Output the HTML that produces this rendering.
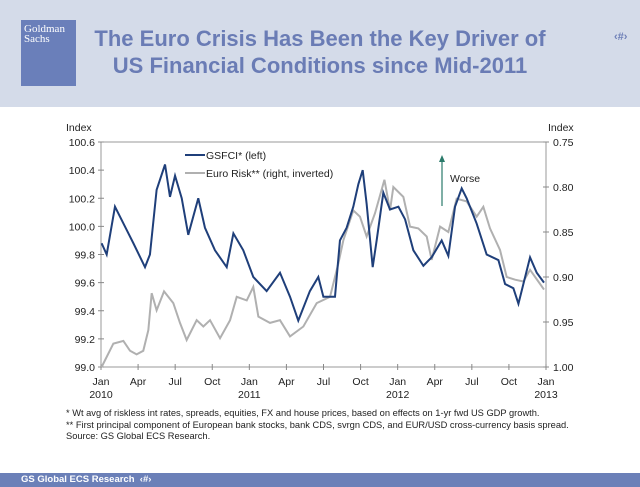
<!DOCTYPE html>
<html><head><meta charset="utf-8"><style>
body{margin:0;width:640px;height:487px;overflow:hidden;background:#fff;font-family:"Liberation Sans",sans-serif;position:relative}
.hdr{position:absolute;left:0;top:0;width:640px;height:107px;background:#d4dbe9}
.logo{position:absolute;left:21px;top:20px;width:55px;height:66px;background:#6a7fba;color:#fff;font-family:"Liberation Serif",serif;font-size:11px;line-height:10px;padding:4px 3px;box-sizing:border-box}
.title{position:absolute;left:80px;top:25px;width:480px;text-align:center;color:#6a7cb5;font-weight:bold;font-size:22px;line-height:27px}
.ftr{position:absolute;left:0;top:473px;width:640px;height:14px;background:#6b80b8;color:#fff;font-weight:bold;font-size:9.5px;line-height:14px;padding-left:21px;box-sizing:border-box}
.foot{position:absolute;left:66px;top:408px;font-size:9.3px;line-height:11.5px;color:#222;white-space:nowrap}
</style></head><body>
<div class="hdr"></div>
<div class="logo">Goldman<br>Sachs</div>
<div class="title">The Euro Crisis Has Been the Key Driver of<br>US Financial Conditions since Mid-2011</div>
<div style="position:absolute;left:614px;top:31px;color:#6f80b8;font-size:11px;font-weight:bold">‹#›</div>
<svg id="chart" width="640" height="487" style="position:absolute;left:0;top:0"></svg>
<div class="foot">* Wt avg of riskless int rates, spreads, equities, FX and house prices, based on effects on 1-yr fwd US GDP growth.<br>** First principal component of European bank stocks, bank CDS, svrgn CDS, and EUR/USD cross-currency basis spread.<br>Source: GS Global ECS Research.</div>
<div class="ftr">GS Global ECS Research &nbsp;‹#›</div>
<script>
const gsMonths=[0.05,0.46,1.13,2.62,3.56,3.96,4.5,5.18,5.58,5.99,6.53,7.06,7.87,8.41,9.22,10.17,10.71,11.51,12.32,13.4,14.48,15.29,15.96,16.9,17.58,17.99,18.93,19.33,19.87,20.41,20.82,21.17,21.49,21.98,22.3,22.84,23.38,24.06,24.6,25.27,26.08,26.75,27.56,28.1,28.64,29.18,29.58,30.39,31.2,32.15,32.69,33.36,33.77,34.17,34.71,35.25,35.84];
const gsValues=[99.88,99.8,100.14,99.88,99.71,99.8,100.26,100.44,100.21,100.36,100.2,99.94,100.2,99.99,99.83,99.71,99.95,99.83,99.64,99.54,99.67,99.5,99.33,99.54,99.64,99.5,99.5,99.9,99.99,100.14,100.3,100.4,100.16,99.71,99.9,100.24,100.12,100.14,100.05,99.83,99.72,99.78,99.9,99.79,100.14,100.27,100.2,100.02,99.8,99.76,99.59,99.56,99.45,99.59,99.78,99.67,99.6];
const euMonths=[0.05,1,1.81,2.35,2.88,3.42,3.83,4.1,4.5,5.1,5.85,6.39,6.93,7.74,8.28,8.82,9.63,10.44,10.98,11.79,12.32,12.73,13.67,14.48,15.29,16.37,17.45,18.53,19.2,19.61,20.41,20.95,21.49,22.17,22.93,23.38,23.65,24.46,25,25.67,26.35,26.75,27.43,28.1,28.77,29.58,30.39,30.93,31.47,32.28,32.82,33.5,34.17,34.71,35.38,35.84];
const euValues=[1.0,0.974,0.971,0.982,0.986,0.982,0.959,0.918,0.937,0.916,0.929,0.951,0.97,0.948,0.955,0.948,0.968,0.948,0.922,0.926,0.911,0.944,0.951,0.948,0.966,0.955,0.929,0.922,0.885,0.859,0.826,0.833,0.855,0.829,0.792,0.826,0.8,0.811,0.844,0.846,0.855,0.881,0.844,0.85,0.813,0.816,0.833,0.822,0.846,0.87,0.9,0.903,0.905,0.892,0.905,0.914];
const leftTicks=["100.6","100.4","100.2","100.0","99.8","99.6","99.4","99.2","99.0"];
const rightTicks=["0.75","0.80","0.85","0.90","0.95","1.00"];
const monthLabels=["Jan","Apr","Jul","Oct","Jan","Apr","Jul","Oct","Jan","Apr","Jul","Oct","Jan"];
const yearLabels=["2010","","","","2011","","","","2012","","","","2013"];
const NS="http://www.w3.org/2000/svg",svg=document.getElementById('chart');
const X0=101,X1=546,Y0=142,Y1=367;
const x=m=>X0+(X1-X0)*m/36;
const yL=v=>Y0+(100.6-v)/1.6*(Y1-Y0);
const yR=v=>Y0+(v-0.75)/0.25*(Y1-Y0);
function mk(t,a,txt){const e=document.createElementNS(NS,t);for(const k in a)e.setAttribute(k,a[k]);if(txt!=null)e.textContent=txt;svg.appendChild(e);return e;}
let e=mk('rect',{x:X0,y:Y0,width:X1-X0,height:Y1-Y0,fill:'none',stroke:'#999','stroke-width':1});


leftTicks.forEach((t,i)=>{const yy=yL(parseFloat(t));
 mk('line',{x1:X0-3,x2:X0+3,y1:yy,y2:yy,stroke:'#888'});
 e=mk('text',{x:X0-6,y:yy+4,'text-anchor':'end','font-size':10.5,fill:'#222'},t);
 
 });
rightTicks.forEach(t=>{const yy=yR(parseFloat(t));
 mk('line',{x1:X1-3,x2:X1+3,y1:yy,y2:yy,stroke:'#888'});
 e=mk('text',{x:X1+7,y:yy+4,'font-size':10.5,fill:'#222'},t);
 
 });
monthLabels.forEach((t,i)=>{const xx=x(i*3);
 mk('line',{x1:xx,x2:xx,y1:Y1-3,y2:Y1+3,stroke:'#888'});
 e=mk('text',{x:xx,y:385,'text-anchor':'middle','font-size':10.5,fill:'#222'},t);
 
 
 if(yearLabels[i]){e=mk('text',{x:xx,y:398,'text-anchor':'middle','font-size':10.5,fill:'#222'},yearLabels[i]);
 
 }});
e=mk('text',{x:66,y:131,'font-size':10.5,fill:'#222'},'Index');


e=mk('text',{x:548,y:131,'font-size':10.5,fill:'#222'},'Index');


e=mk('polyline',{points:euMonths.map((m,i)=>x(m)+','+yR(euValues[i])).join(' '),fill:'none',stroke:'#b0b0b0','stroke-width':2});


e=mk('polyline',{points:gsMonths.map((m,i)=>x(m)+','+yL(gsValues[i])).join(' '),fill:'none',stroke:'#1f3f7a','stroke-width':2});


mk('line',{x1:185,x2:205,y1:155,y2:155,stroke:'#1f3f7a','stroke-width':2});
e=mk('text',{x:206,y:159,'font-size':10.5,fill:'#222'},'GSFCI* (left)');


mk('line',{x1:185,x2:205,y1:173,y2:173,stroke:'#b0b0b0','stroke-width':2});
e=mk('text',{x:206,y:177,'font-size':10.5,fill:'#222'},'Euro Risk** (right, inverted)');


mk('line',{x1:442,x2:442,y1:206,y2:160,stroke:'#2a7a6a','stroke-width':1.2});
e=mk('path',{d:'M439,162 L442,155 L445,162 Z',fill:'#2a7a6a'});


e=mk('text',{x:450,y:182,'font-size':10.5,fill:'#222'},'Worse');


</script>
</body></html>
